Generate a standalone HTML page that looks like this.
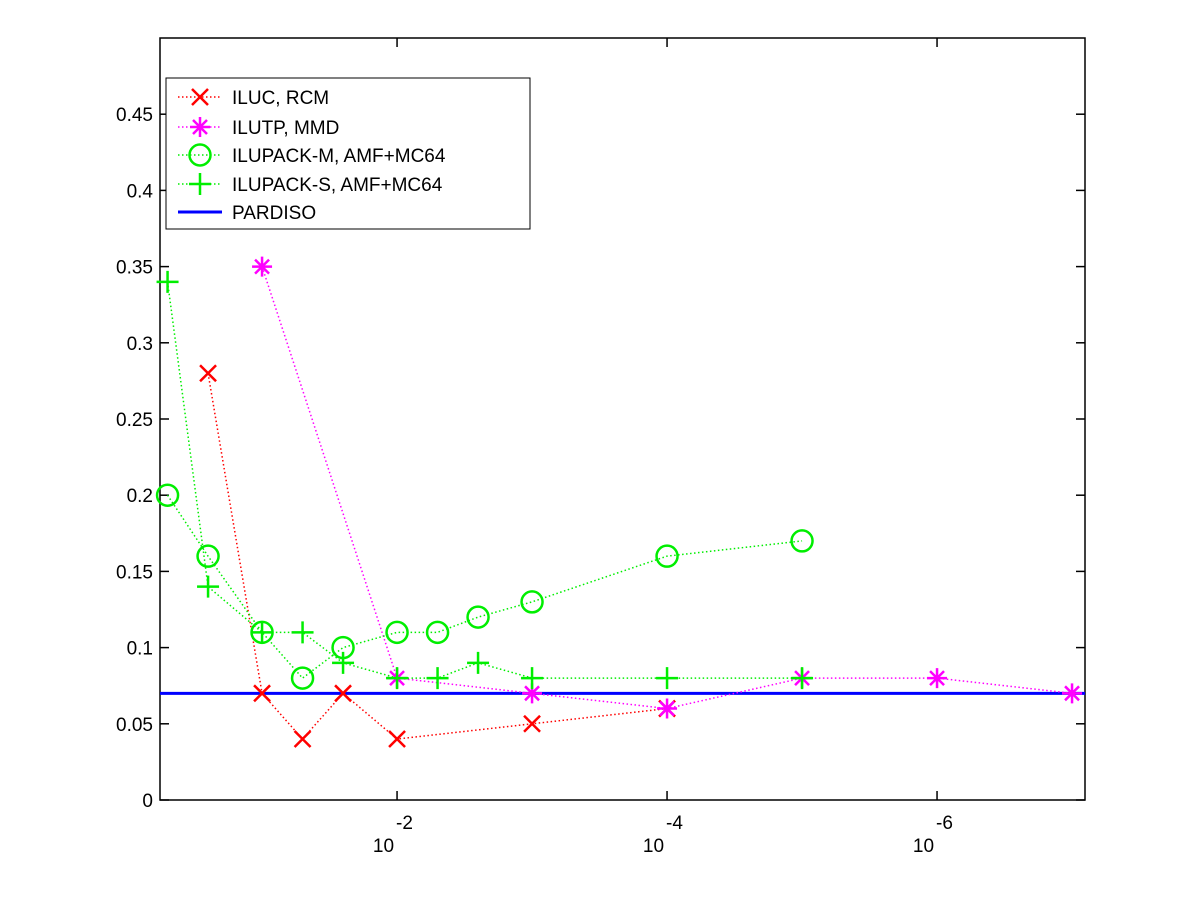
<!DOCTYPE html>
<html><head><meta charset="utf-8"><style>
html,body{margin:0;padding:0;background:#fff;}
svg{display:block;font-family:"Liberation Sans",Helvetica,sans-serif;}
</style></head><body>
<svg id="chart" width="1200" height="900" viewBox="0 0 1200 900" xmlns="http://www.w3.org/2000/svg">
<rect x="0" y="0" width="1200" height="900" fill="#fff"/>
<g id="plot"></g>
</svg>
<script>
const xExpIluc = [-0.6, -1, -1.3, -1.6, -2, -3, -4];
const yIluc = [0.28, 0.07, 0.04, 0.07, 0.04, 0.05, 0.06];
const xExpIlutp = [-1, -2, -3, -4, -5, -6, -7];
const yIlutp = [0.35, 0.08, 0.07, 0.06, 0.08, 0.08, 0.07];
const xExpM = [-0.3, -0.6, -1, -1.3, -1.6, -2, -2.3, -2.6, -3, -4, -5];
const yM = [0.2, 0.16, 0.11, 0.08, 0.10, 0.11, 0.11, 0.12, 0.13, 0.16, 0.17];
const xExpS = [-0.3, -0.6, -1, -1.3, -1.6, -2, -2.3, -2.6, -3, -4, -5];
const yS = [0.34, 0.14, 0.11, 0.11, 0.09, 0.08, 0.08, 0.09, 0.08, 0.08, 0.08];
const pardisoY = 0.07;
const yTicks = [0, 0.05, 0.1, 0.15, 0.2, 0.25, 0.3, 0.35, 0.4, 0.45];
const yTickLabels = ["0","0.05","0.1","0.15","0.2","0.25","0.3","0.35","0.4","0.45"];
const xTickExps = [-2, -4, -6];
const xTickLabels = ["-2", "-4", "-6"];

const L=160,R=1085,T=38,B=800;
const xMaxExp=-0.244, xMinExp=-7.096;
const X=e=>L+(xMaxExp-e)/(xMaxExp-xMinExp)*(R-L);
const Y=v=>B-v/0.5*(B-T);
const NS="http://www.w3.org/2000/svg";
const g=document.getElementById('plot');
function mk(tag,attrs,parent){const el=document.createElementNS(NS,tag);for(const k in attrs)el.setAttribute(k,attrs[k]);(parent||g).appendChild(el);return el;}

const frame=mk('rect',{x:L,y:T,width:R-L,height:B-T,fill:'none',stroke:'#000','stroke-width':1.5});



yTicks.forEach((v,i)=>{
  const y=Y(v);
  const t1=mk('line',{x1:L,y1:y,x2:L+9,y2:y,stroke:'#000','stroke-width':1.5});
  
  
  const t2=mk('line',{x1:R-9,y1:y,x2:R,y2:y,stroke:'#000','stroke-width':1.5});
  
  
  const tx=mk('text',{x:L-7,y:y+7,'text-anchor':'end','font-size':19});
  tx.textContent=yTickLabels[i];
  
  
});
xTickExps.forEach((e,i)=>{
  const x=X(e);
  const t1=mk('line',{x1:x,y1:B,x2:x,y2:B-9,stroke:'#000','stroke-width':1.5});
  
  
  const t2=mk('line',{x1:x,y1:T,x2:x,y2:T+9,stroke:'#000','stroke-width':1.5});
  
  
  const b=mk('text',{x:x-3,y:852,'text-anchor':'end','font-size':19});
  b.textContent='10';
  
  
  const s=mk('text',{x:x-1,y:829,'text-anchor':'start','font-size':19});
  s.textContent=xTickLabels[i];
  
  
});

function marker(type,cx,cy,color,parent){
  const gg=mk('g',{stroke:color,'stroke-width':2.5,fill:'none'},parent);
  
  
  if(type==='x'){mk('path',{d:`M${cx-8} ${cy-8}L${cx+8} ${cy+8}M${cx-8} ${cy+8}L${cx+8} ${cy-8}`},gg);}
  else if(type==='star'){mk('path',{d:`M${cx-10} ${cy}L${cx+10} ${cy}M${cx} ${cy-10}L${cx} ${cy+10}M${cx-7} ${cy-7}L${cx+7} ${cy+7}M${cx-7} ${cy+7}L${cx+7} ${cy-7}`},gg);}
  else if(type==='circle'){mk('circle',{cx:cx,cy:cy,r:10.5},gg);}
  else if(type==='plus'){mk('path',{d:`M${cx-11} ${cy}L${cx+11} ${cy}M${cx} ${cy-11}L${cx} ${cy+11}`},gg);}
}
function series(name,xs,ys,color,type){
  const sg=mk('g',{});
  
  
  const pts=xs.map((e,i)=>X(e)+','+Y(ys[i])).join(' ');
  mk('polyline',{points:pts,fill:'none',stroke:color,'stroke-width':1.5,'stroke-dasharray':'1.5 2.5'},sg);
  xs.forEach((e,i)=>marker(type,X(e),Y(ys[i]),color,sg));
}
const pl=mk('line',{x1:L,y1:Y(pardisoY),x2:R,y2:Y(pardisoY),stroke:'#0000ff','stroke-width':3});


series('series-iluc-rcm',xExpIluc,yIluc,'#ff0000','x');
series('series-ilutp-mmd',xExpIlutp,yIlutp,'#ff00ff','star');
series('series-ilupack-m',xExpM,yM,'#00ee00','circle');
series('series-ilupack-s',xExpS,yS,'#00ee00','plus');

// legend
const lg=mk('g',{});


mk('rect',{x:166,y:78,width:364,height:151,fill:'#fff',stroke:'#000','stroke-width':1},lg);
const entries=[['ILUC, RCM','#ff0000','x'],['ILUTP, MMD','#ff00ff','star'],['ILUPACK-M, AMF+MC64','#00ee00','circle'],['ILUPACK-S, AMF+MC64','#00ee00','plus'],['PARDISO','#0000ff','line']];
const ey=[97,127,155,184,212];
entries.forEach((en,i)=>{
  const eg=mk('g',{},lg);
  
  
  const y=ey[i];
  if(en[2]==='line'){mk('line',{x1:178,y1:y,x2:222,y2:y,stroke:en[1],'stroke-width':3},eg);}
  else{mk('line',{x1:178,y1:y,x2:222,y2:y,stroke:en[1],'stroke-width':1.5,'stroke-dasharray':'1.5 2.5'},eg);marker(en[2],200,y,en[1],eg);}
  const t=mk('text',{x:232,y:y+7,'font-size':19},eg);
  t.textContent=en[0];
});
</script>
</body></html>
